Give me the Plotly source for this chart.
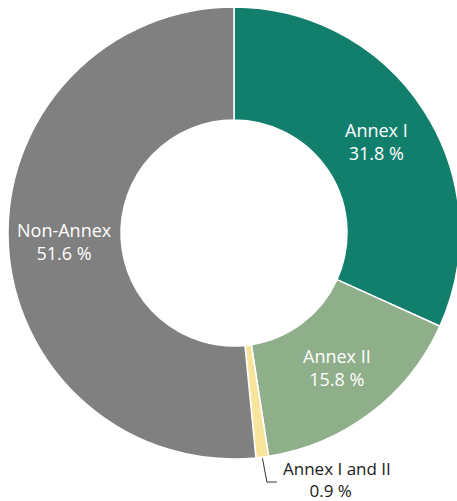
import math
import plotly.graph_objects as go

# ── Data ─────────────────────────────────────────────────────────────────────
labels = ["Annex I", "Annex II", "Annex I and II", "Non-Annex"]
shares = [31.8, 15.8, 0.9, 51.6]

# ── Style ────────────────────────────────────────────────────────────────────
TEAL = "#127F6D"
SAGE = "#8FAE8A"
PALE = "#F8E49C"
GREY = "#808080"
colors = [TEAL, SAGE, PALE, GREY]
outside = [False, False, True, False]
FONT = "Open Sans, Noto Sans, sans-serif"
NBSP = "\u00a0"

# the donut runs a few pixels past the right edge of the 457px view
W, H = 463, 501
M = dict(l=8, r=3, t=7, b=42)
HOLE = 0.5

# pie geometry in pixels (plotly: radius = min(w, h) / 2, centred in the domain)
pw = W - M["l"] - M["r"]
ph = H - M["t"] - M["b"]
R = min(pw, ph) / 2
CX = M["l"] + pw / 2
CY = M["t"] + ph / 2


def to_paper(px, py):
    return (px - M["l"]) / pw, 1 - (py - M["t"]) / ph


fig = go.Figure(go.Pie(
    labels=labels,
    values=shares,
    hole=HOLE,
    sort=False,
    direction="clockwise",
    rotation=0,
    marker=dict(colors=colors, line=dict(color="white", width=1.5)),
    textinfo="none",
    hoverinfo="label+percent",
    showlegend=False,
))

# labels at the middle of each slice
total = sum(shares)
acc = 0
for lab, val, out in zip(labels, shares, outside):
    mid = (acc + val / 2) / total * 2 * math.pi
    acc += val
    dx, dy = math.sin(mid), -math.cos(mid)
    if not out:
        rr = R * (1 + HOLE) / 2
        x, y = to_paper(CX + dx * rr, CY + dy * rr)
        fig.add_annotation(
            x=x, y=y, xref="paper", yref="paper",
            text=f"{lab}<br>{val:.1f} %", showarrow=False,
            font=dict(family=FONT, size=18, color="white"),
            align="center", xanchor="center", yanchor="middle",
        )
    else:
        # elbow leader line
        x0, y0 = CX + dx * (R + 1), CY + dy * (R + 1)
        x1, y1 = CX + dx * (R + 25) + 1.5, CY + dy * (R + 25)
        x2, y2 = x1 + 10, y1
        p0, p1, p2 = to_paper(x0, y0), to_paper(x1, y1), to_paper(x2, y2)
        fig.add_shape(
            type="path", xref="paper", yref="paper",
            path=f"M {p0[0]},{p0[1]} L {p1[0]},{p1[1]} L {p2[0]},{p2[1]}",
            line=dict(color="#333333", width=1),
        )
        tx, ty = to_paper(x2 + 5, y1 - 3)
        fig.add_annotation(
            x=tx, y=ty, xref="paper", yref="paper",
            text=f"{lab}<br>{NBSP * 6}{val:.1f} %", showarrow=False,
            font=dict(family=FONT, size=17, color="#1a1a1a"),
            align="left", xanchor="left", yanchor="middle", borderpad=0,
        )

fig.update_layout(
    width=W,
    height=H,
    margin=M,
    paper_bgcolor="white",
    plot_bgcolor="white",
    font=dict(family=FONT),
)

# drop the default 8px body margin and the scrollbars from the wider figure
fig.write_html(
    "out.html",
    config={"displayModeBar": False},
    post_script="document.body.style.margin = '0'; document.body.style.overflow = 'hidden';",
)
